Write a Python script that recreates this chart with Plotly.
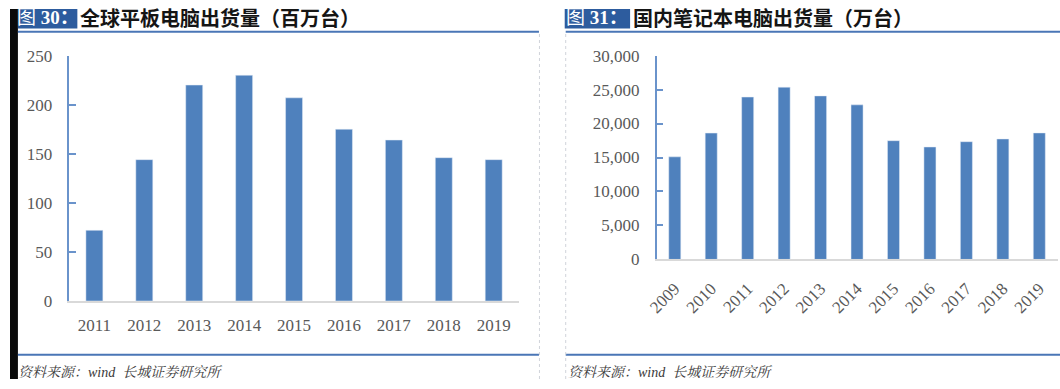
import plotly.graph_objects as go

# ---- data ----
left_years = ["2011", "2012", "2013", "2014", "2015", "2016", "2017", "2018", "2019"]
left_values = [72, 144, 220, 230, 207, 175, 164, 146, 144]
left_ticks = [0, 50, 100, 150, 200, 250]

right_years = ["2009", "2010", "2011", "2012", "2013", "2014", "2015", "2016", "2017", "2018", "2019"]
right_values = [15100, 18600, 23900, 25350, 24070, 22750, 17480, 16550, 17330, 17730, 18620]
right_ticks = [0, 5000, 10000, 15000, 20000, 25000, 30000]

left_title_no = "图 <b>30：</b>"
left_title = "全球平板电脑出货量（百万台）"
right_title_no = "图 <b>31：</b>"
right_title = "国内笔记本电脑出货量（万台）"
source_text = "资料来源：<i>wind</i>  长城证券研究所"

W, H = 1060, 389
BAR = "#4F81BD"
AXBLUE = "#6A93CB"
RULE = "#4A76B6"
BOX = "#2D5C9E"
TICKFONT = dict(family="Liberation Serif, Times New Roman, serif", size=17, color="#595959")

def px(x):
    return x / W

def py(y):
    # vertical position in page pixels from the top
    return 1 - y / H

fig = go.Figure()
fig.add_trace(go.Bar(x=left_years, y=left_values, marker_color=BAR, xaxis="x", yaxis="y", width=0.34))
fig.add_trace(go.Bar(x=right_years, y=right_values, marker_color=BAR, xaxis="x2", yaxis="y2", width=0.33))

common_x = dict(showline=True, linecolor="#D9D9D9", linewidth=1.5, ticks="", showgrid=False,
                tickfont=TICKFONT, zeroline=False, fixedrange=True)
common_y = dict(showline=True, linecolor=AXBLUE, linewidth=1.5, ticks="inside", ticklen=7,
                tickcolor=AXBLUE, tickwidth=1.5, showgrid=False, zeroline=False,
                tickfont=TICKFONT, fixedrange=True)

fig.update_layout(
    autosize=True,
    margin=dict(l=0, r=0, t=0, b=0),
    paper_bgcolor="white", plot_bgcolor="white",
    showlegend=False,
    xaxis=dict(domain=[px(60), px(513.5)], anchor="y", ticklabelstandoff=8, **common_x),
    yaxis=dict(domain=[py(307), py(49)], anchor="x", range=[0, 250], tickvals=left_ticks,
               ticklabelstandoff=12, **common_y),
    xaxis2=dict(domain=[px(652.7), px(1057.5)], anchor="y2", tickangle=-45, ticklabelstandoff=11, **common_x),
    yaxis2=dict(domain=[py(263.3), py(49)], anchor="x2", range=[0, 30000], tickvals=right_ticks,
                tickformat=",d", ticklabelstandoff=12, **common_y),
)

shapes = []
# black strip at left
shapes.append(dict(type="rect", xref="paper", yref="paper", x0=0, x1=px(8), y0=0, y1=1,
                   fillcolor="#0A0A0A", line_width=0, layer="above"))
# title boxes
shapes.append(dict(type="rect", xref="paper", yref="paper", x0=px(8), x1=px(68), y0=py(20.5), y1=py(0),
                   fillcolor=BOX, line_width=0))
shapes.append(dict(type="rect", xref="paper", yref="paper", x0=px(560), x1=px(626), y0=py(20.5), y1=py(0),
                   fillcolor=BOX, line_width=0))
# rules
for (x0, x1) in [(8, 534), (561, 1060)]:
    shapes.append(dict(type="line", xref="paper", yref="paper", x0=px(x0), x1=px(x1), y0=py(23.8), y1=py(23.8),
                       line=dict(color=RULE, width=2)))
    shapes.append(dict(type="line", xref="paper", yref="paper", x0=px(x0), x1=px(x1), y0=py(363.5), y1=py(363.5),
                       line=dict(color=RULE, width=2)))
# dotted dividers
for x in [534.5, 561]:
    shapes.append(dict(type="line", xref="paper", yref="paper", x0=px(x), x1=px(x), y0=0, y1=py(23.8),
                       line=dict(color="#D0D4DA", width=1, dash="dot")))
fig.update_layout(shapes=shapes)

ann = []
ann.append(dict(text=left_title_no, x=px(38), y=py(8.5), xref="paper", yref="paper", showarrow=False,
                xanchor="center", yanchor="middle",
                font=dict(family="Liberation Serif, Noto Sans CJK SC", size=19, color="white")))
ann.append(dict(text=right_title_no, x=px(593), y=py(8.5), xref="paper", yref="paper", showarrow=False,
                xanchor="center", yanchor="middle",
                font=dict(family="Liberation Serif, Noto Sans CJK SC", size=19, color="white")))
ann.append(dict(text="<b>" + left_title + "</b>", x=px(69), y=py(8.5), xref="paper", yref="paper",
                showarrow=False, xanchor="left", yanchor="middle",
                font=dict(family="Noto Sans CJK SC", size=20, color="#151515")))
ann.append(dict(text="<b>" + right_title + "</b>", x=px(627), y=py(8.5), xref="paper", yref="paper",
                showarrow=False, xanchor="left", yanchor="middle",
                font=dict(family="Noto Sans CJK SC", size=20, color="#151515")))
for x in [6, 561]:
    ann.append(dict(text="<i>" + source_text + "</i>", x=px(x), y=py(382), xref="paper", yref="paper",
                    showarrow=False, xanchor="left", yanchor="middle",
                    font=dict(family="Liberation Serif, Noto Serif CJK SC, Noto Sans CJK SC", size=14, color="#3A3A3A")))
fig.update_layout(annotations=ann)

fig.write_html(
    "out.html",
    config={"displayModeBar": False},
    default_width="1060px",
    default_height="389px; position:absolute; top:0px; left:0px",
)
